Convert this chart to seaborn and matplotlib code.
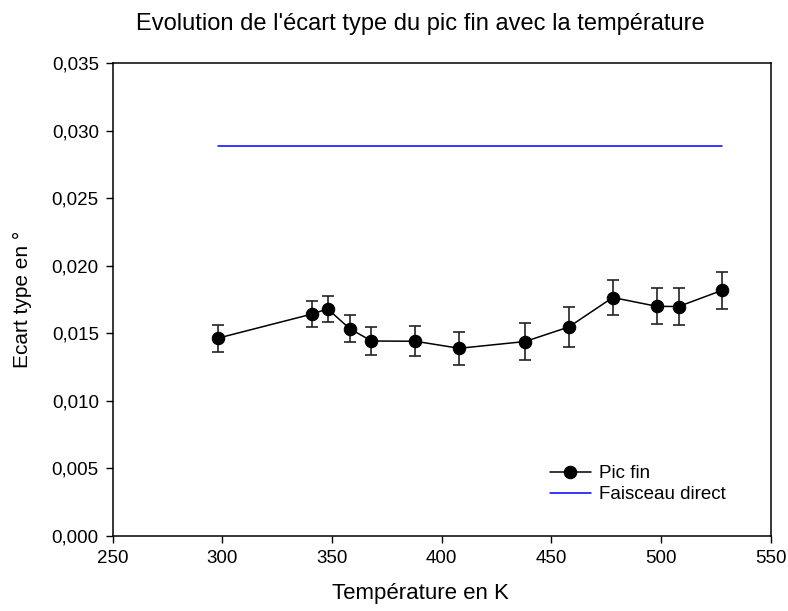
import seaborn as sns
import matplotlib.pyplot as plt
import pandas as pd
from matplotlib.ticker import FuncFormatter

sns.set_style("ticks", {"text.color": "black", "axes.labelcolor": "black",
                        "xtick.color": "black", "ytick.color": "black",
                        "axes.edgecolor": "black"})
plt.rcParams['font.family'] = ['Liberation Sans', 'DejaVu Sans']

# Pic fin: température (K), écart type (°) et erreur
temperature = [298, 341, 348, 358, 368, 388, 408, 438, 458, 478, 498, 508, 528]
ecart_type = [0.01465, 0.01644, 0.01682, 0.01536, 0.01444, 0.01442, 0.01390,
              0.01440, 0.01548, 0.01766, 0.01701, 0.01699, 0.01820]
erreur = [0.00100, 0.00097, 0.00097, 0.00101, 0.00104, 0.00111, 0.00123,
          0.00135, 0.00145, 0.00132, 0.00133, 0.00135, 0.00138]

# Faisceau direct
faisceau_t = [298, 528]
faisceau_val = [0.0289, 0.0289]

df = pd.DataFrame({"T": temperature, "sigma": ecart_type, "err": erreur})
df_fd = pd.DataFrame({"T": faisceau_t, "sigma": faisceau_val})

fig = plt.figure(figsize=(7.88, 6.11), dpi=100)
ax = fig.add_axes([0.143, 0.1227, 0.835, 0.7737])

ax.errorbar(df["T"], df["sigma"], yerr=df["err"], fmt="none", ecolor="#222222",
            elinewidth=1.2, capsize=4.5, capthick=1.2, zorder=2)
sns.lineplot(data=df, x="T", y="sigma", ax=ax, color="black", marker="o",
             markersize=9, markeredgecolor="black", linewidth=1.1,
             label="Pic fin", zorder=3)
sns.lineplot(data=df_fd, x="T", y="sigma", ax=ax, color="blue", linewidth=1.1,
             label="Faisceau direct")

ax.set_xlim(250, 550)
ax.set_ylim(0, 0.035)
ax.set_xticks(range(250, 551, 50))
ax.set_yticks([i * 0.005 for i in range(8)])
ax.yaxis.set_major_formatter(FuncFormatter(lambda v, p: f"{v:.3f}".replace(".", ",")))
ax.tick_params(direction="out", length=5, width=1, labelsize=13.5, pad=5)
for s in ax.spines.values():
    s.set_linewidth(1.1)

ax.set_xlabel("Température en K", fontsize=16)
ax.xaxis.set_label_coords(0.468, -0.1)
ax.set_ylabel("Ecart type en °", fontsize=15, labelpad=14)
ax.set_title("Evolution de l'écart type du pic fin avec la température",
             fontsize=17, pad=24, x=0.468)

ax.legend(loc="upper left", bbox_to_anchor=(0.664, 0.15), frameon=False,
          fontsize=13.5, handlelength=2.2, handletextpad=0.45,
          labelspacing=0.2, borderpad=0, borderaxespad=0)

fig.savefig("out.png", dpi=100)
plt.close()
